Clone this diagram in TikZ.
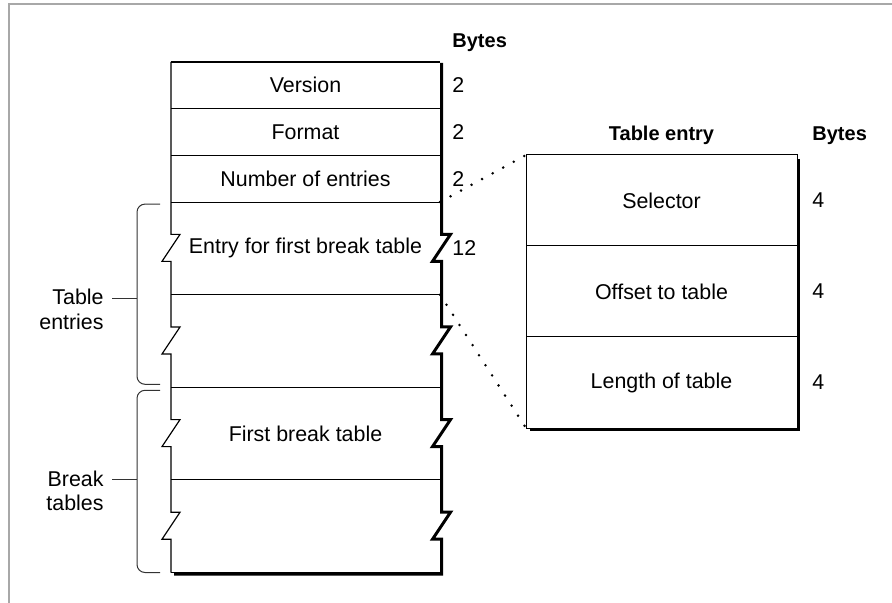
\documentclass[tikz,border=0pt]{standalone}
\usepackage{fontspec}
\setmainfont{Liberation Sans}
\usetikzlibrary{positioning, calc}
\definecolor{framegray}{HTML}{A8A8A8}
\tikzset{
    field/.style={
        rectangle, minimum width=134.5pt, minimum height=23.35pt,
        inner sep=0pt, outer sep=0pt, text centered
    },
    bigfield/.style={
        field, minimum height=46.3pt
    },
    entryfield/.style={
        rectangle, draw=black, line width=0.5pt, minimum width=135.5pt,
        minimum height=45.5pt, inner sep=0pt, outer sep=0pt, text centered
    },
    bytecount/.style={
        inner sep=1pt
    },
    colhead/.style={
        inner sep=1pt, font=\bfseries
    },
    sepline/.style={
        draw=black, line width=0.5pt
    },
    edgeline/.style={
        draw=black, line width=0.6pt
    },
    shadowline/.style={
        draw=black, line width=1.5pt
    },
    bracket/.style={
        draw=black!80, line width=0.5pt, rounded corners=4pt
    },
    bracelabel/.style={
        inner sep=1pt, align=right
    },
    leader/.style={
        draw=black, line width=1.4pt, line cap=round, dash pattern=on 0pt off 6pt
    }
}

\begin{document}
\begin{tikzpicture}[x=0.5pt, y=-0.5pt, font=\fontsize{10.7}{12.2}\selectfont]

    \useasboundingbox (0,0) rectangle (892,603);
    \draw[framegray, line width=0.7pt] (9,603) -- (9,4) -- (892,4);

    % ── Break table header ──
    \node[field]                      (ver)  at (305.5,85.35) {Version};
    \node[field, below=0pt of ver]    (fmt)  {Format};
    \node[field, below=0pt of fmt]    (num)  {Number of entries};
    \node[bigfield, below=0pt of num] (ent)  {Entry for first break table};
    \node[bigfield, below=0pt of ent] (emp1) {};
    \node[bigfield, below=0pt of emp1](brk)  {First break table};
    \node[bigfield, below=0pt of brk] (emp2) {};

    \foreach \r in {ver,fmt,num,ent,emp1,brk}
        \draw[sepline] (\r.south west) -- (\r.south east);
    \draw[edgeline] (ver.north west) -- (ver.north east);
    \draw[edgeline] (emp2.south west) -- (emp2.south east);

    % ── Edges with breaks ──
    \draw[edgeline] (ver.north west) -- (num.south west)
        \foreach \r in {ent,emp1,brk,emp2} {
            -- ([yshift=7pt]\r.west) -- ++(4.5pt,0) -- ++(-9pt,-13.5pt) -- ++(4.5pt,0)
        } -- (emp2.south west);
    \draw[shadowline] ([shift={(0.75pt,-0.5pt)}]ver.north east) -- ([xshift=0.75pt]num.south east)
        \foreach \r in {ent,emp1,brk,emp2} {
            -- ([shift={(0.75pt,7pt)}]\r.east) -- ++(4.5pt,0) -- ++(-9pt,-13.5pt) -- ++(4.5pt,0)
        } -- ([shift={(0.75pt,-0.75pt)}]emp2.south east) -- ([shift={(1.5pt,-0.75pt)}]emp2.south west);

    % ── Byte counts ──
    \node[bytecount, right=5pt of ver] (twoA)   {2};
    \node[bytecount, right=5pt of fmt] (twoB)   {2};
    \node[bytecount, right=5pt of num] (twoC)   {2};
    \node[bytecount, right=5pt of ent] (twelve) {12};
    \node[colhead, anchor=base west] (bytesL) at ([yshift=7pt]ver.north -| twoA.west) {Bytes};

    % ── Table entry ──
    \node[entryfield]                   (sel) at (661.5,200.5) {Selector};
    \node[entryfield, below=0pt of sel] (off) {Offset to table};
    \node[entryfield, below=0pt of off] (len) {Length of table};
    \draw[shadowline] ([shift={(0.75pt,-2pt)}]sel.north east) |- ([shift={(2pt,-0.75pt)}]len.south west);

    \node[bytecount, right=6.5pt of sel] (fourA) {4};
    \node[bytecount, right=6.5pt of off] (fourB) {4};
    \node[bytecount, right=6.5pt of len] (fourC) {4};
    \node[colhead, anchor=base] (entryhead) at ([yshift=7pt]sel.north) {Table entry};
    \node[colhead, anchor=base west] (bytesR) at (entryhead.base -| fourA.west) {Bytes};

    % ── Leaders ──
    \draw[leader] (num.south east) -- (sel.north west);
    \draw[leader] (ent.south east) -- (len.south west);

    % ── Brackets ──
    \draw[bracket] ([shift={(-5.5pt,-1pt)}]ent.north west) -| ([shift={(-17pt,1.5pt)}]emp1.south west)
        -- ([shift={(-5.5pt,1.5pt)}]emp1.south west);
    \coordinate (temid) at ($(ent.north west)!0.52!(emp1.south west)$);
    \draw[bracket] ([xshift=-17pt]temid) -- ++(-12.5pt,0) coordinate (teend);
    \node[bracelabel, left=3pt of teend, yshift=-5.5pt] (telabel) {Table\\entries};

    \draw[bracket] ([shift={(-5.5pt,-1.5pt)}]brk.north west) -| ([shift={(-17pt,0pt)}]emp2.south west)
        -- ([shift={(-5.5pt,0pt)}]emp2.south west);
    \coordinate (btmid) at ($(brk.north west)!0.5!(emp2.south west)$);
    \draw[bracket] ([xshift=-17pt]btmid) -- ++(-12.5pt,0) coordinate (btend);
    \node[bracelabel, left=3pt of btend, yshift=-5.5pt] (btlabel) {Break\\tables};

\end{tikzpicture}
\end{document}
